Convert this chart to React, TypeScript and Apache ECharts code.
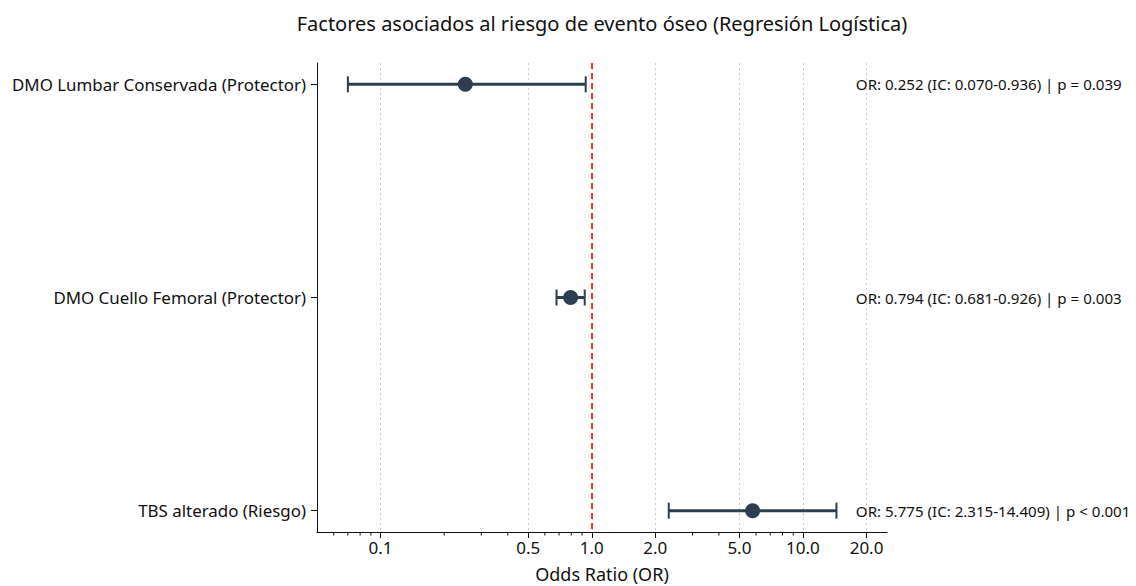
import React, { useEffect, useRef } from "react";
import * as echarts from "echarts";

const CATEGORIES = [
  "DMO Lumbar Conservada (Protector)",
  "DMO Cuello Femoral (Protector)",
  "TBS alterado (Riesgo)",
];
const OR_VALUES = [0.252, 0.794, 5.775];
const CI_LOW = [0.07, 0.681, 2.315];
const CI_HIGH = [0.936, 0.926, 14.409];
const P_TEXT = ["p = 0.039", "p = 0.003", "p < 0.001"];
const MAJOR_TICKS = [0.1, 0.5, 1, 2, 5, 10, 20];
const TICK_LABELS = ["0.1", "0.5", "1.0", "2.0", "5.0", "10.0", "20.0"];
const MINOR_TICKS = [0.06, 0.07, 0.08, 0.09, 0.2, 0.3, 0.4, 0.6, 0.7, 0.8, 0.9, 3, 4, 6, 7, 8, 9];
const X_MIN = 0.05;
const X_MAX = 25;
const Y_MIN = -0.1;
const Y_MAX = 2.1;
const ANNOT_X = 17.8;
const REF_X = 1;

const FONT = "Noto Sans";
const NAVY = "#2c3e50";

export default function App() {
  const ref = useRef<HTMLDivElement>(null);
  useEffect(() => {
    document.body.style.margin = "0";
    if (!ref.current) return;
    const chart = echarts.init(ref.current, null, { renderer: "svg" });
    const idx = CATEGORIES.map((_, i) => i);
    const annot = idx.map(
      (i) => `OR: ${OR_VALUES[i].toFixed(3)} (IC: ${CI_LOW[i].toFixed(3)}-${CI_HIGH[i].toFixed(3)}) | ${P_TEXT[i]}`
    );
    const option: any = {
      animation: false,
      textStyle: { fontFamily: FONT },
      grid: { left: 317, right: 249, top: 63, bottom: 54, containLabel: false, outerBoundsMode: "none" },
      graphic: [
        {
          type: "text",
          x: 602,
          y: 23,
          style: {
            text: "Factores asociados al riesgo de evento óseo (Regresión Logística)",
            fontFamily: FONT,
            fontSize: 20,
            fill: "#111",
            textAlign: "center",
            textVerticalAlign: "middle",
          },
        },
      ],
      xAxis: {
        type: "log",
        logBase: 10,
        min: X_MIN,
        max: X_MAX,
        name: "Odds Ratio (OR)",
        nameLocation: "middle",
        nameGap: 33,
        nameTextStyle: { fontFamily: FONT, fontSize: 18, color: "#111" },
        axisLine: { show: true, onZero: false, lineStyle: { color: "#111", width: 1 } },
        axisTick: { show: true, inside: false, customValues: MAJOR_TICKS, length: 6, lineStyle: { color: "#111", width: 1 } },
        axisLabel: {
          show: true,
          customValues: MAJOR_TICKS,
          formatter: (v: number) => TICK_LABELS[MAJOR_TICKS.findIndex((t) => Math.abs(t - v) < 1e-6)] ?? "",
          fontFamily: FONT,
          fontSize: 17,
          color: "#111",
          margin: 7,
        },
        splitLine: { show: true, lineStyle: { color: "#c8c8c8", type: [2, 3], width: 1 } },
      },
      yAxis: {
        type: "value",
        min: Y_MIN,
        max: Y_MAX,
        inverse: true,
        axisLine: { show: true, onZero: false, lineStyle: { color: "#111", width: 1 } },
        axisTick: { show: true, customValues: idx, length: 6, lineStyle: { color: "#111" } },
        axisLabel: {
          show: true,
          customValues: idx,
          formatter: (v: number) => CATEGORIES[Math.round(v)] ?? "",
          fontFamily: FONT,
          fontSize: 16.9,
          color: "#111",
          margin: 11,
        },
        splitLine: { show: false },
      },
      series: [
        {
          type: "custom",
          clip: false,
          silent: true,
          encode: { x: 0 },
          data: MINOR_TICKS.map((v) => [v]),
          renderItem: (params: any, api: any) => {
            const p = api.coord([api.value(0), Y_MAX]);
            return {
              type: "line",
              shape: { x1: p[0], y1: p[1], x2: p[0], y2: p[1] + 3.5 },
              style: { stroke: "#111", lineWidth: 1 },
            };
          },
        },
        {
          type: "custom",
          encode: { x: [0, 1], y: 2 },
          data: idx.map((i) => [CI_LOW[i], CI_HIGH[i], i]),
          z: 3,
          renderItem: (params: any, api: any) => {
            const y = api.value(2);
            const lo = api.coord([api.value(0), y]);
            const hi = api.coord([api.value(1), y]);
            const h = 8;
            const st = { stroke: NAVY, lineWidth: 2 };
            return {
              type: "group",
              children: [
                { type: "line", shape: { x1: lo[0], y1: lo[1], x2: hi[0], y2: hi[1] }, style: { stroke: NAVY, lineWidth: 3 } },
                { type: "line", shape: { x1: lo[0], y1: lo[1] - h, x2: lo[0], y2: lo[1] + h }, style: st },
                { type: "line", shape: { x1: hi[0], y1: hi[1] - h, x2: hi[0], y2: hi[1] + h }, style: st },
              ],
            };
          },
        },
        {
          type: "scatter",
          data: idx.map((i) => [OR_VALUES[i], i]),
          symbol: "circle",
          symbolSize: 15,
          itemStyle: { color: NAVY, opacity: 1 },
          z: 4,
          markLine: {
            silent: true,
            symbol: ["none", "none"],
            label: { show: false },
            lineStyle: { color: "#ff0000", type: [6, 4], width: 1.6 },
            data: [{ xAxis: REF_X }],
          },
        },
        {
          type: "custom",
          clip: false,
          silent: true,
          encode: { x: 0, y: 1 },
          data: idx.map((i) => [ANNOT_X, i]),
          z: 5,
          renderItem: (params: any, api: any) => {
            const p = api.coord([api.value(0), api.value(1)]);
            return {
              type: "text",
              x: p[0],
              y: p[1],
              style: {
                text: annot[params.dataIndex],
                fontFamily: FONT,
                fontSize: 15.1,
                fill: "#111",
                textAlign: "left",
                textVerticalAlign: "middle",
              },
            };
          },
        },
      ],
    };
    chart.setOption(option);
    return () => chart.dispose();
  }, []);
  return <div ref={ref} style={{ width: 1136, height: 586 }} />;
}
